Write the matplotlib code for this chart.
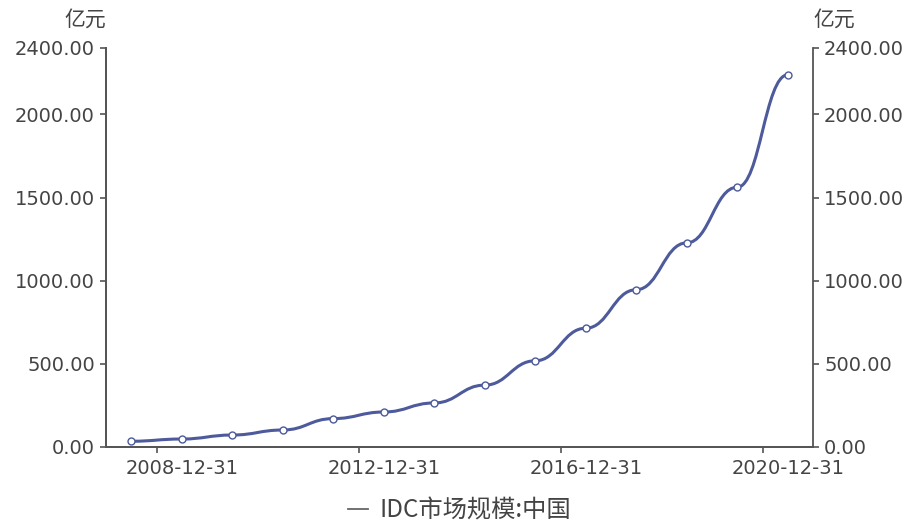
import matplotlib
matplotlib.use("Agg")
import matplotlib.pyplot as plt
from matplotlib.path import Path
from matplotlib.patches import PathPatch
from matplotlib.lines import Line2D
from matplotlib.ticker import FixedLocator, FuncFormatter

plt.rcParams['font.family'] = ['DejaVu Sans', 'Noto Sans CJK SC']

# data: IDC market size, China (亿元)
years = ["2007-12-31", "2008-12-31", "2009-12-31", "2010-12-31", "2011-12-31",
         "2012-12-31", "2013-12-31", "2014-12-31", "2015-12-31", "2016-12-31",
         "2017-12-31", "2018-12-31", "2019-12-31", "2020-12-31"]
values = [34.6, 48.0, 72.0, 102.2, 170.8, 210.5, 265.0, 372.2, 518.6, 714.5,
          946.1, 1228.0, 1562.5, 2238.7]
yticks = [0, 500, 1000, 1500, 2000, 2400]
label_years = ["2008-12-31", "2012-12-31", "2016-12-31", "2020-12-31"]
series_name = "IDC市场规模:中国"
unit = "亿元"

line_color = '#4d5a9b'
axis_color = '#555555'
text_color = '#444444'
cjk = ['Noto Sans CJK SC', 'DejaVu Sans']

fig = plt.figure(figsize=(9.1, 5.28), dpi=100)
ax = fig.add_axes([106 / 910, 1 - 447 / 528, (813 - 106) / 910, (447 - 48) / 528])

xs = list(range(len(years)))

# smooth line, flat tangent at every point
s = 0.45
verts = [(xs[0], values[0])]
codes = [Path.MOVETO]
for i in range(1, len(xs)):
    dx = xs[i] - xs[i - 1]
    verts += [(xs[i - 1] + s * dx, values[i - 1]), (xs[i] - s * dx, values[i]), (xs[i], values[i])]
    codes += [Path.CURVE4] * 3
ax.add_patch(PathPatch(Path(verts, codes), fill=False, edgecolor=line_color, lw=2.2,
                       capstyle='round', joinstyle='round', zorder=3))
ax.plot(xs, values, ls='none', marker='o', ms=5, mfc='white', mec=line_color, mew=1.0, zorder=4)

ax.set_xlim(-0.5, len(years) - 0.5)
ax.set_ylim(0, 2400)

# x axis: ticks on category boundaries, labels at category centres
label_pos = [years.index(y) for y in label_years]
ax.xaxis.set_major_locator(FixedLocator([p - 0.5 for p in label_pos]))
ax.xaxis.set_major_formatter(FuncFormatter(lambda v, p: ""))
ax.xaxis.set_minor_locator(FixedLocator(label_pos))
ax.xaxis.set_minor_formatter(FuncFormatter(lambda v, p: years[int(round(v))]))
ax.tick_params(axis='x', which='major', length=4.5, width=1.2, color=axis_color)
ax.tick_params(axis='x', which='minor', length=0, pad=8.5, labelsize=14, labelcolor=text_color)

fmt = FuncFormatter(lambda v, p: f"{v:.2f}")
ax.set_yticks(yticks)
ax.yaxis.set_major_formatter(fmt)
ax.tick_params(axis='y', length=4.5, width=1.2, color=axis_color, labelsize=14,
               labelcolor=text_color, pad=3.5)

ax2 = ax.twinx()
ax2.set_ylim(0, 2400)
ax2.set_yticks(yticks)
ax2.yaxis.set_major_formatter(fmt)
ax2.tick_params(axis='y', length=4.5, width=1.2, color=axis_color, labelsize=14,
                labelcolor=text_color, pad=3.5)

for a in (ax, ax2):
    a.spines['top'].set_visible(False)
    for side in ('left', 'right', 'bottom'):
        a.spines[side].set_color(axis_color)
        a.spines[side].set_linewidth(1.3)
ax.spines['right'].set_visible(False)

fig.text(106 / 910, 1 - 20 / 528, unit, ha='right', va='center', fontsize=15,
         color=text_color, family=cjk)
fig.text(813 / 910, 1 - 20 / 528, unit, ha='left', va='center', fontsize=15,
         color=text_color, family=cjk)

handle = Line2D([], [], color='#666666', lw=1.3)
fig.legend([handle], [series_name], loc='center', bbox_to_anchor=(460 / 910, 1 - 511 / 528),
           frameon=False, prop={'family': cjk, 'size': 17.5}, handlelength=0.8,
           handletextpad=0.5, labelcolor=text_color)

fig.savefig("out.png", dpi=100)
